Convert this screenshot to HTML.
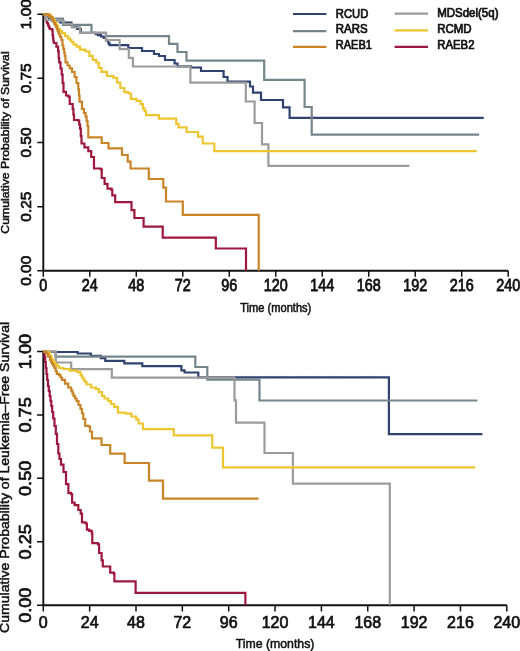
<!DOCTYPE html>
<html><head><meta charset="utf-8"><title>Kaplan-Meier curves</title>
<style>html,body{margin:0;padding:0;background:#fff;width:520px;height:651px;overflow:hidden;}
svg{display:block;font-family:"Liberation Sans",sans-serif;will-change:transform;}
.tk{stroke:#111;stroke-width:0.7;}
.tt{stroke:#111;stroke-width:0.5;}</style></head>
<body>
<svg width="520" height="651" viewBox="0 0 520 651" font-family="Liberation Sans, sans-serif" fill="#111">
<rect width="520" height="651" fill="#ffffff"/>
<path d="M43.3,14.2 V270.8 M43.3,270.8 H508.2" stroke="#111" stroke-width="1.9" fill="none"/>
<path d="M43.30,270.8 v6.0 M89.79,270.8 v6.0 M136.28,270.8 v6.0 M182.77,270.8 v6.0 M229.26,270.8 v6.0 M275.75,270.8 v6.0 M322.24,270.8 v6.0 M368.73,270.8 v6.0 M415.22,270.8 v6.0 M461.71,270.8 v6.0 M508.20,270.8 v6.0 M43.3,270.80 h-6.0 M43.3,206.65 h-6.0 M43.3,142.50 h-6.0 M43.3,78.35 h-6.0 M43.3,14.20 h-6.0 " stroke="#111" stroke-width="1.5" fill="none"/>
<text x="0" y="0" transform="translate(43.30,291.20) scale(1,1.110)" text-anchor="middle" font-weight="normal" class="tk" font-size="14.40">0</text>
<text x="0" y="0" transform="translate(89.79,291.20) scale(1,1.110)" text-anchor="middle" font-weight="normal" class="tk" font-size="14.40">24</text>
<text x="0" y="0" transform="translate(136.28,291.20) scale(1,1.110)" text-anchor="middle" font-weight="normal" class="tk" font-size="14.40">48</text>
<text x="0" y="0" transform="translate(182.77,291.20) scale(1,1.110)" text-anchor="middle" font-weight="normal" class="tk" font-size="14.40">72</text>
<text x="0" y="0" transform="translate(229.26,291.20) scale(1,1.110)" text-anchor="middle" font-weight="normal" class="tk" font-size="14.40">96</text>
<text x="0" y="0" transform="translate(275.75,291.20) scale(1,1.110)" text-anchor="middle" font-weight="normal" class="tk" font-size="14.40">120</text>
<text x="0" y="0" transform="translate(322.24,291.20) scale(1,1.110)" text-anchor="middle" font-weight="normal" class="tk" font-size="14.40">144</text>
<text x="0" y="0" transform="translate(368.73,291.20) scale(1,1.110)" text-anchor="middle" font-weight="normal" class="tk" font-size="14.40">168</text>
<text x="0" y="0" transform="translate(415.22,291.20) scale(1,1.110)" text-anchor="middle" font-weight="normal" class="tk" font-size="14.40">192</text>
<text x="0" y="0" transform="translate(461.71,291.20) scale(1,1.110)" text-anchor="middle" font-weight="normal" class="tk" font-size="14.40">216</text>
<text x="0" y="0" transform="translate(508.20,291.20) scale(1,1.110)" text-anchor="middle" font-weight="normal" class="tk" font-size="14.40">240</text>
<text x="0" y="0" transform="translate(30.80,270.80) rotate(-90) scale(1.070,1)" text-anchor="middle" font-weight="normal" class="tk" font-size="14.40">0.00</text>
<text x="0" y="0" transform="translate(30.80,206.65) rotate(-90) scale(1.070,1)" text-anchor="middle" font-weight="normal" class="tk" font-size="14.40">0.25</text>
<text x="0" y="0" transform="translate(30.80,142.50) rotate(-90) scale(1.070,1)" text-anchor="middle" font-weight="normal" class="tk" font-size="14.40">0.50</text>
<text x="0" y="0" transform="translate(30.80,78.35) rotate(-90) scale(1.070,1)" text-anchor="middle" font-weight="normal" class="tk" font-size="14.40">0.75</text>
<text x="0" y="0" transform="translate(30.80,14.20) rotate(-90) scale(1.070,1)" text-anchor="middle" font-weight="normal" class="tk" font-size="14.40">1.00</text>
<text x="0" y="0" transform="translate(8.60,142.50) rotate(-90) scale(1.070,1)" text-anchor="middle" font-weight="normal" class="tt" font-size="11.45">Cumulative Probability of Survival</text>
<text x="0" y="0" transform="translate(275.75,312.30) scale(1,1.070)" text-anchor="middle" font-weight="normal" class="tt" font-size="11.10">Time (months)</text>
<path d="M43.3,351.5 V605.2 M43.3,605.2 H506.8" stroke="#111" stroke-width="1.9" fill="none"/>
<path d="M43.30,605.2 v6.3 M89.65,605.2 v6.3 M136.00,605.2 v6.3 M182.35,605.2 v6.3 M228.70,605.2 v6.3 M275.05,605.2 v6.3 M321.40,605.2 v6.3 M367.75,605.2 v6.3 M414.10,605.2 v6.3 M460.45,605.2 v6.3 M506.80,605.2 v6.3 M43.3,605.20 h-6.3 M43.3,541.78 h-6.3 M43.3,478.35 h-6.3 M43.3,414.93 h-6.3 M43.3,351.50 h-6.3 " stroke="#111" stroke-width="1.5" fill="none"/>
<text x="0" y="0" transform="translate(43.30,628.20) scale(1,1.000)" text-anchor="middle" font-weight="normal" class="tk" font-size="16.00">0</text>
<text x="0" y="0" transform="translate(89.65,628.20) scale(1,1.000)" text-anchor="middle" font-weight="normal" class="tk" font-size="16.00">24</text>
<text x="0" y="0" transform="translate(136.00,628.20) scale(1,1.000)" text-anchor="middle" font-weight="normal" class="tk" font-size="16.00">48</text>
<text x="0" y="0" transform="translate(182.35,628.20) scale(1,1.000)" text-anchor="middle" font-weight="normal" class="tk" font-size="16.00">72</text>
<text x="0" y="0" transform="translate(228.70,628.20) scale(1,1.000)" text-anchor="middle" font-weight="normal" class="tk" font-size="16.00">96</text>
<text x="0" y="0" transform="translate(275.05,628.20) scale(1,1.000)" text-anchor="middle" font-weight="normal" class="tk" font-size="16.00">120</text>
<text x="0" y="0" transform="translate(321.40,628.20) scale(1,1.000)" text-anchor="middle" font-weight="normal" class="tk" font-size="16.00">144</text>
<text x="0" y="0" transform="translate(367.75,628.20) scale(1,1.000)" text-anchor="middle" font-weight="normal" class="tk" font-size="16.00">168</text>
<text x="0" y="0" transform="translate(414.10,628.20) scale(1,1.000)" text-anchor="middle" font-weight="normal" class="tk" font-size="16.00">192</text>
<text x="0" y="0" transform="translate(460.45,628.20) scale(1,1.000)" text-anchor="middle" font-weight="normal" class="tk" font-size="16.00">216</text>
<text x="0" y="0" transform="translate(506.80,628.20) scale(1,1.000)" text-anchor="middle" font-weight="normal" class="tk" font-size="16.00">240</text>
<text x="0" y="0" transform="translate(30.60,605.20) rotate(-90) scale(1.100,1)" text-anchor="middle" font-weight="normal" class="tk" font-size="16.50">0.00</text>
<text x="0" y="0" transform="translate(30.60,541.78) rotate(-90) scale(1.100,1)" text-anchor="middle" font-weight="normal" class="tk" font-size="16.50">0.25</text>
<text x="0" y="0" transform="translate(30.60,478.35) rotate(-90) scale(1.100,1)" text-anchor="middle" font-weight="normal" class="tk" font-size="16.50">0.50</text>
<text x="0" y="0" transform="translate(30.60,414.93) rotate(-90) scale(1.100,1)" text-anchor="middle" font-weight="normal" class="tk" font-size="16.50">0.75</text>
<text x="0" y="0" transform="translate(30.60,351.50) rotate(-90) scale(1.100,1)" text-anchor="middle" font-weight="normal" class="tk" font-size="16.50">1.00</text>
<text x="0" y="0" transform="translate(9.40,477.45) rotate(-90) scale(1.070,1)" text-anchor="middle" font-weight="normal" class="tt" font-size="13.15">Cumulative Probability of Leukemia–Free Survival</text>
<text x="0" y="0" transform="translate(275.05,648.40) scale(1,1.070)" text-anchor="middle" font-weight="normal" class="tt" font-size="12.30">Time (months)</text>
<path d="M43.3,14.2 H45.2 V14.2 H45.8 V20.4 H47.0 V23.0 H48.0 V25.5 H49.0 V27.5 H49.8 V29.0 H52.1 V30.2 H52.6 V35.0 H53.0 V38.0 H53.3 V40.5 H53.8 V43.0 H56.4 V46.6 H58.1 V51.2 H58.7 V58.1 H59.2 V62.3 H60.5 V68.5 H61.7 V74.6 H62.6 V83.0 H63.5 V91.8 H66.0 V95.5 H68.4 V96.7 H69.7 V104.0 H72.7 V109.0 H73.4 V114.5 H74.0 V120.0 H78.3 V120.6 H79.2 V124.5 H80.1 V128.6 H80.8 V136.0 H81.5 V143.5 H84.4 V147.3 H88.3 V151.2 H91.2 V157.0 H94.0 V159.0 H94.0 V168.5 H100.8 V169.4 H101.7 V178.0 H104.6 V183.8 H107.5 V188.7 H111.3 V189.6 H112.3 V195.4 H115.2 V197.3 H115.2 V202.1 H131.5 V210.2 H134.4 V218.0 H143.6 V226.6 H162.7 V237.6 H215.8 V248.5 H246.0 V270.8" stroke="#9e173e" stroke-width="2.2" fill="none" stroke-linejoin="miter" stroke-linecap="butt"/>
<path d="M43.3,14.2 H46 V16 H49 V18 H52 V21 H60 V22.5 H71.5 V25.5 H74 V27 H77 V29 H80.8 V32.9 H95.8 V34.2 H98 V35.2 H101 V36.5 H103.8 V38 H106 V40.5 H108.4 V43.3 H109.6 V45.2 H128.3 V48 H142 V51 H154 V54 H159 V56 H165 V60 H174.6 V63.5 H177.5 V66.3 H191 V67.5 H201 V71 H223.6 V77 H227.5 V81.7 H250 V86.5 H253 V92.7 H261 V100 H283 V107.3 H289.6 V117.8 H483.7" stroke="#2f4270" stroke-width="2.2" fill="none" stroke-linejoin="miter" stroke-linecap="butt"/>
<path d="M43.3,14.2 H47 V17 H50 V18.6 H63 V24.8 H91.5 V32.8 H106 V36.2 H169 V43.8 H177.5 V52 H186.5 V60.6 H264.2 V79.8 H304.6 V107 H311.7 V134.6 H479.2" stroke="#74858c" stroke-width="2.2" fill="none" stroke-linejoin="miter" stroke-linecap="butt"/>
<path d="M43.3,14.2 H46 V20 H52 V21 H64 V24 H72 V27.4 H80 V32.8 H106 V40 H119.6 V49.2 H128.8 V57.9 H132.9 V66.5 H190.4 V82.7 H245.8 V101.5 H254.6 V123 H262 V144.3 H268.4 V165.8 H409.3" stroke="#9b9b9b" stroke-width="2.2" fill="none" stroke-linejoin="miter" stroke-linecap="butt"/>
<path d="M43.3,14.2 H48.5 V14.6 H50.8 V17.0 H52.8 V19.5 H54.8 V22.5 H56.4 V25.6 H58.0 V29.0 H59.7 V30.8 H62.0 V33.1 H64.9 V36.0 H67.7 V38.3 H70.0 V40.0 H71.5 V42.0 H73.5 V44.5 H76.6 V46.6 H80.0 V49.7 H85.4 V51.5 H89.4 V55.8 H92.8 V59.8 H96.2 V62.5 H98.8 V67.9 H101.5 V71.9 H106.9 V76.0 H113.6 V78.0 H117.0 V82.7 H120.4 V88.0 H124.4 V92.1 H128.5 V93.5 H131.1 V98.8 H136.5 V100.9 H140.6 V104.2 H143.0 V108.3 H144.5 V111.0 H146.0 V115.1 H158.9 V118.6 H176.2 V123.9 H178.5 V127.3 H186.6 V132.0 H198.1 V136.6 H202.7 V137.7 H202.7 V143.5 H214.3 V151.1 H476.7 V151.1" stroke="#edc62f" stroke-width="2.2" fill="none" stroke-linejoin="miter" stroke-linecap="butt"/>
<path d="M43.3,14.2 H47.0 V14.5 H48.7 V15.8 H50.0 V16.6 H51.6 V17.5 H52.5 V19.5 H53.3 V21.6 H54.2 V23.3 H55.0 V25.0 H56.0 V27.0 H56.8 V29.0 H57.7 V31.0 H58.5 V33.1 H59.4 V35.0 H60.2 V37.2 H61.4 V40.0 H62.5 V45.5 H63.3 V48.9 H64.2 V52.5 H64.7 V56.0 H65.5 V62.3 H67.5 V65.5 H69.7 V68.4 H72.0 V72.0 H74.6 V77.0 H76.5 V83.0 H78.3 V89.3 H79.0 V95.5 H79.5 V101.6 H82.0 V109.0 H84.0 V113.0 H85.6 V116.3 H86.6 V121.0 H87.5 V126.0 H88.3 V137.3 H101.7 V143.0 H108.5 V148.3 H122.0 V155.0 H127.7 V161.7 H130.6 V168.5 H148.8 V179.0 H163.3 V187.7 H166.0 V201.5 H182.8 V214.8 H258.7 V270.8" stroke="#c98428" stroke-width="2.2" fill="none" stroke-linejoin="miter" stroke-linecap="butt"/>
<path d="M43.3,351.5 H44.0 V352.0 H44.6 V357.0 H45.2 V362.0 H45.8 V368.0 H46.5 V374.0 H47.2 V380.0 H48.0 V386.0 H48.8 V391.0 H49.7 V396.0 H50.5 V401.0 H51.3 V406.0 H52.2 V412.0 H53.2 V418.5 H54.5 V426.0 H55.8 V433.8 H57.0 V444.0 H58.3 V453.5 H59.5 V459.0 H61.0 V464.6 H63.5 V472.0 H66.0 V484.2 H68.4 V492.8 H70.9 V494.0 H72.1 V502.7 H74.6 V505.1 H78.3 V510.0 H80.7 V513.7 H82.0 V522.3 H85.6 V523.5 H86.9 V529.7 H89.3 V530.9 H91.8 V533.4 H92.3 V543.2 H97.9 V544.4 H99.1 V553.0 H101.6 V560.4 H102.8 V566.5 H109.0 V566.5 H110.2 V572.7 H113.9 V573.9 H114.4 V581.3 H135.6 V592.9 H245.4 V605.0" stroke="#9e173e" stroke-width="2.2" fill="none" stroke-linejoin="miter" stroke-linecap="butt"/>
<path d="M43.3,351.5 H46 V352 H77.7 V353.5 H90.8 V355.8 H100.8 V358.1 H105.3 V360.9 H124.3 V363.4 H142.3 V366.1 H181.4 V370.4 H184.6 V372.5 H198.3 V377.3 H388.9 V434.2 H482.4" stroke="#2f4270" stroke-width="2.2" fill="none" stroke-linejoin="miter" stroke-linecap="butt"/>
<path d="M43.3,351.5 H55.5 V356.7 H195.3 V367 H207.3 V379.6 H259.5 V400.5 H477.5" stroke="#74858c" stroke-width="2.2" fill="none" stroke-linejoin="miter" stroke-linecap="butt"/>
<path d="M43.3,351.5 H55.8 V362.5 H71.2 V369.2 H111.8 V377.6 H234.5 V400.4 H236 V422.7 H264.5 V453 H292.9 V483.6 H389.8 V605" stroke="#9b9b9b" stroke-width="2.2" fill="none" stroke-linejoin="miter" stroke-linecap="butt"/>
<path d="M43.3,351.5 H46.0 V352.0 H48.7 V353.0 H50.0 V356.0 H51.6 V359.5 H53.3 V362.0 H55.0 V364.0 H57.0 V366.0 H59.0 V368.0 H63.5 V369.0 H69.7 V370.6 H77.4 V372.2 H80.5 V375.2 H82.0 V377.5 H83.5 V379.8 H85.0 V382.0 H86.6 V384.5 H91.2 V387.5 H95.8 V389.0 H98.9 V392.2 H102.0 V396.0 H104.5 V398.5 H108.3 V401.2 H111.0 V404.0 H114.1 V406.9 H118.0 V412.7 H125.7 V413.7 H131.4 V416.5 H136.2 V419.4 H138.5 V423.5 H143.0 V429.2 H173.8 V435.4 H212.3 V447.7 H223.0 V467.3 H475.2 V467.3" stroke="#edc62f" stroke-width="2.2" fill="none" stroke-linejoin="miter" stroke-linecap="butt"/>
<path d="M43.3,351.5 H45.0 V352.2 H46.4 V353.5 H48.0 V356.5 H50.0 V360.0 H51.2 V362.0 H52.0 V364.0 H53.3 V366.0 H54.5 V368.0 H55.7 V371.0 H56.8 V373.9 H58.9 V375.2 H60.5 V377.5 H62.0 V379.8 H65.0 V383.7 H68.2 V387.5 H71.2 V390.6 H72.5 V393.5 H73.5 V396.0 H75.0 V398.5 H76.6 V401.2 H78.5 V405.0 H80.5 V408.8 H82.0 V413.5 H83.3 V419.0 H85.2 V425.8 H89.0 V426.5 H90.0 V431.5 H92.0 V438.3 H100.6 V438.3 H101.5 V445.0 H109.2 V445.0 H110.2 V453.7 H123.8 V453.7 H124.6 V463.0 H149.0 V463.0 H149.0 V480.6 H163.0 V480.6 H163.0 V498.6 H258.5 V498.6" stroke="#c98428" stroke-width="2.2" fill="none" stroke-linejoin="miter" stroke-linecap="butt"/>
<path d="M237.0,377.4 v-1.6 M241.6,377.4 v-1.6 M246.2,377.4 v-1.6 M250.8,377.4 v-1.6 M255.4,377.4 v-1.6 M260.0,377.4 v-1.6 M264.6,377.4 v-1.6 M269.2,377.4 v-1.6 M273.8,377.4 v-1.6 M278.4,377.4 v-1.6 M283.0,377.4 v-1.6 M287.6,377.4 v-1.6 M292.2,377.4 v-1.6 M296.8,377.4 v-1.6 M301.4,377.4 v-1.6 M306.0,377.4 v-1.6 M310.6,377.4 v-1.6 M315.2,377.4 v-1.6 M319.8,377.4 v-1.6 M324.4,377.4 v-1.6 M329.0,377.4 v-1.6 M333.6,377.4 v-1.6 M338.2,377.4 v-1.6 M342.8,377.4 v-1.6 M347.4,377.4 v-1.6 M352.0,377.4 v-1.6 M356.6,377.4 v-1.6 M361.2,377.4 v-1.6 M365.8,377.4 v-1.6 M370.4,377.4 v-1.6 M375.0,377.4 v-1.6 M379.6,377.4 v-1.6 M384.2,377.4 v-1.6 " stroke="#2f4270" stroke-width="0.8" fill="none" opacity="0.6"/>
<path d="M293.0,14.0 h33.4" stroke="#2f4270" stroke-width="2.2" fill="none"/>
<text x="0" y="0" transform="translate(335.8,17.6) scale(0.980,1.07)" font-weight="normal" class="tk" font-size="11.5">RCUD</text>
<path d="M293.0,31.2 h33.4" stroke="#74858c" stroke-width="2.2" fill="none"/>
<text x="0" y="0" transform="translate(335.8,33.2) scale(1.000,1.07)" font-weight="normal" class="tk" font-size="11.5">RARS</text>
<path d="M293.0,46.8 h33.4" stroke="#c98428" stroke-width="2.2" fill="none"/>
<text x="0" y="0" transform="translate(335.8,49.2) scale(0.960,1.07)" font-weight="normal" class="tk" font-size="11.5">RAEB1</text>
<path d="M394.6,13.7 h33.4" stroke="#9b9b9b" stroke-width="2.2" fill="none"/>
<text x="0" y="0" transform="translate(437.2,16.9) scale(1.000,1.07)" font-weight="normal" class="tk" font-size="11.5">MDSdel(5q)</text>
<path d="M394.6,30.4 h33.4" stroke="#edc62f" stroke-width="2.2" fill="none"/>
<text x="0" y="0" transform="translate(437.2,32.9) scale(1.000,1.07)" font-weight="normal" class="tk" font-size="11.5">RCMD</text>
<path d="M394.6,46.9 h33.4" stroke="#9e173e" stroke-width="2.2" fill="none"/>
<text x="0" y="0" transform="translate(437.2,48.7) scale(0.990,1.07)" font-weight="normal" class="tk" font-size="11.5">RAEB2</text>
</svg>
</body></html>
